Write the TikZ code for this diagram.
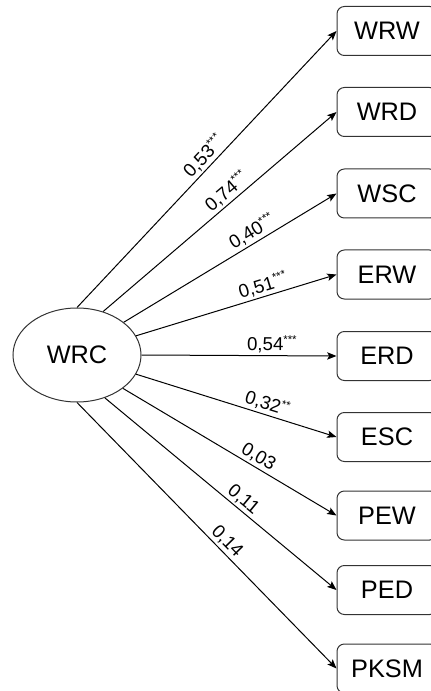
\documentclass[tikz,border=0pt]{standalone}
\usepackage{fontspec}
\setmainfont{Liberation Sans}
\usetikzlibrary{shapes.geometric,arrows.meta}
\tikzset{
  px/.style={x=0.75pt,y=-0.75pt},
  box/.style={draw=black!80, line width=0.75pt, rounded corners=5.5pt, minimum width=75pt, minimum height=36.75pt, inner sep=0pt, font=\fontsize{19}{19}\selectfont},
  lat/.style={draw=black!80, line width=0.75pt, ellipse, minimum width=96pt, minimum height=70.5pt, inner sep=0pt, font=\fontsize{19}{19}\selectfont},
  conn/.style={draw=black, line width=0.75pt, -{Stealth[length=7pt,width=5.5pt,inset=1.5pt]}},
  lbl/.style={sloped, above, inner sep=1.5pt, font=\fontsize{14}{14}\selectfont}
}
\newcommand{\stars}[1]{\textsuperscript{\fontsize{8.5}{8.5}\selectfont #1}}
\begin{document}
\begin{tikzpicture}[px]
\useasboundingbox (0,0) rectangle (430,691);
\node[lat] (wrc) at (77,355) {WRC};
\node[box] (wrw) at (387,31) {WRW};
\node[box] (wrd) at (387,112) {WRD};
\node[box] (wsc) at (387,193.5) {WSC};
\node[box] (erw) at (387,274.5) {ERW};
\node[box] (erd) at (387,356) {ERD};
\node[box] (esc) at (387,437) {ESC};
\node[box] (pew) at (387,515.5) {PEW};
\node[box] (ped) at (387,590) {PED};
\node[box] (pksm) at (387,668.5) {PKSM};
\draw[conn] (wrc.90) -- node[lbl, pos=0.52] {0,53\stars{***}} (wrw.west);
\draw[conn] (wrc.59) -- node[lbl, pos=0.56] {0,74\stars{***}} (wrd.west);
\draw[conn] (wrc.35) -- node[lbl, pos=0.63] {0,40\stars{***}} (wsc.west);
\draw[conn] (wrc.18) -- node[lbl, pos=0.65] {0,51\stars{***}} (erw.west);
\draw[conn] (wrc.0) -- node[lbl, pos=0.67] {0,54\stars{***}} (erd.west);
\draw[conn] (wrc.-18) -- node[lbl, pos=0.64] {0,32\stars{**}} (esc.west);
\draw[conn] (wrc.-36) -- node[lbl, pos=0.61] {0,03} (pew.west);
\draw[conn] (wrc.-57) -- node[lbl, pos=0.57] {0,11} (ped.west);
\draw[conn] (wrc.-90) -- node[lbl, pos=0.55] {0,14} (pksm.west);
\end{tikzpicture}
\end{document}
